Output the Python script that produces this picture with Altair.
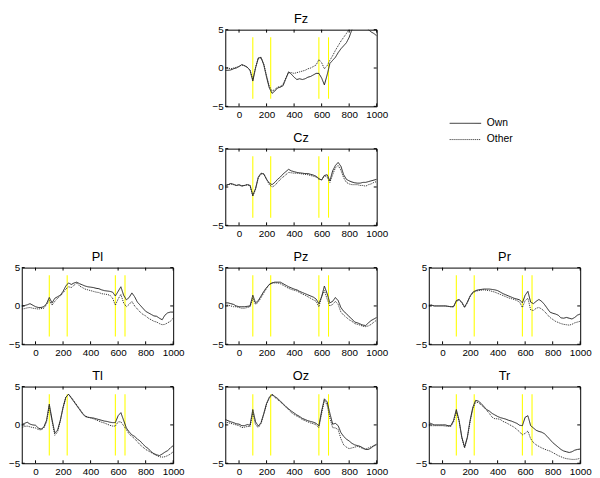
import altair as alt
import pandas as pd

# ---------------- data ----------------
TIME = list(range(-100, 1001, 20))          # ms, 56 samples
MARKERS = [100, 230, 580, 650]              # yellow marker latencies (ms)
MARK_LO, MARK_HI = -4, 4                    # vertical extent of marker lines
X_TICKS = [0, 200, 400, 600, 800, 1000]
Y_TICKS = [-5, 0, 5]
SERIES = ["Own", "Other"]

FZ_OWN = [-0.3, -0.3, -0.25, -0.1, 0.0, 0.2, 0.45, 0.3, 0.1, -0.3,
          -1.7, 0.0, 1.3, 1.4, 0.4, -1.2, -2.6, -3.3, -3.0, -2.6,
          -2.5, -2.3, -1.4, -0.5, -0.8, -1.2, -1.5, -1.4, -1.5, -1.4,
          -1.2, -1.1, -0.9, -0.7, -0.7, -1.3, -2.2, -0.9, 0.6, 1.0,
          1.4, 2.0, 2.5, 2.9, 3.3, 4.0, 5.0, 5.6, 6.0, 6.2,
          6.2, 5.6, 5.0, 4.7, 4.5, 4.2]
FZ_OTHER = [0.1, 0.0, -0.1, 0.0, 0.1, 0.2, 0.4, 0.3, 0.1, -0.3,
            -1.5, 0.1, 1.3, 1.3, 0.5, -1.0, -2.4, -3.0, -2.8, -2.5,
            -2.4, -2.1, -1.3, -0.6, -0.6, -0.7, -0.6, -0.5, -0.4, -0.3,
            -0.1, 0.0, 0.2, 0.4, 1.1, 0.7, -0.1, 0.3, 1.0, 1.6,
            2.3, 2.9, 3.5, 4.0, 4.5, 5.1, 5.8, 6.3, 6.6, 6.8,
            6.8, 6.7, 6.6, 6.4, 6.2, 6.0]
CZ_OWN = [0.2, 0.3, 0.45, 0.35, 0.2, 0.3, 0.15, 0.2, 0.3, 0.2,
          -1.1, -0.2, 1.3, 1.8, 1.7, 1.0, 0.5, 0.3, 0.6, 1.0,
          1.3, 1.7, 2.0, 2.3, 2.1, 2.0, 1.9, 1.85, 1.8, 1.75,
          1.75, 1.65, 1.55, 1.4, 1.1, 0.9, 1.5, 1.6, 0.8, 2.1,
          2.8, 3.2, 2.7, 1.6, 1.0, 0.8, 0.65, 0.55, 0.5, 0.5,
          0.6, 0.6, 0.7, 0.8, 0.9, 1.0]
CZ_OTHER = [0.2, 0.3, 0.4, 0.3, 0.2, 0.25, 0.1, 0.2, 0.3, 0.2,
            -1.2, -0.3, 1.2, 1.7, 1.7, 1.0, 0.3, 0.0, 0.2, 0.6,
            1.0, 1.3, 1.6, 1.9, 1.85, 1.8, 1.8, 1.75, 1.7, 1.65,
            1.6, 1.5, 1.4, 1.3, 1.0, 0.95, 1.5, 1.3, 0.6, 1.6,
            2.5, 2.8, 2.2, 1.2, 0.6, 0.4, 0.3, 0.3, 0.3, 0.2,
            0.2, 0.1, 0.3, 0.4, 0.6, 0.7]
PL_OWN = [0.0, 0.05, 0.15, 0.3, 0.1, -0.1, -0.2, -0.2, -0.1, 0.3,
          1.1, 0.4, 1.0, 1.2, 1.4, 1.9, 2.6, 3.0, 2.8, 3.0,
          3.1, 2.9, 2.75, 2.6, 2.5, 2.45, 2.4, 2.3, 2.25, 2.1,
          2.0, 1.95, 1.9, 1.8, 1.3, 1.9, 2.5, 1.4, 0.8, 1.1,
          1.7, 1.2, 0.5, 0.1, -0.3, -0.7, -0.9, -1.1, -1.3, -1.35,
          -1.6, -1.8, -1.2, -0.9, -0.8, -0.8]
PL_OTHER = [-0.4, -0.35, -0.25, -0.2, -0.3, -0.35, -0.4, -0.35, -0.3, 0.2,
            0.7, 0.1, 0.6, 1.0, 1.3, 1.7, 2.2, 2.5, 2.4, 2.7,
            3.0, 2.6, 2.4, 2.2, 2.1, 2.0, 1.9, 1.8, 1.75, 1.6,
            1.55, 1.5, 1.4, 1.0, 0.1, 0.9, 1.5, 0.4, -0.1, 0.2,
            0.6, 0.0, -0.4, -0.8, -1.1, -1.3, -1.6, -1.8, -2.0, -2.1,
            -2.3, -2.45, -2.4, -2.2, -2.0, -1.6]
PZ_OWN = [0.4, 0.4, 0.3, 0.2, 0.0, -0.1, -0.1, -0.1, -0.05, 0.0,
          1.4, 0.4, 0.7, 1.3, 1.9, 2.4, 2.8, 3.0, 3.1, 3.1,
          3.1, 2.9, 2.7, 2.5, 2.35, 2.2, 2.1, 1.9, 1.75, 1.6,
          1.45, 1.3, 1.15, 0.9, 0.3, 1.2, 2.6, 1.6, 0.4, 0.6,
          1.1, 0.7, -0.2, -0.7, -1.0, -1.4, -1.7, -2.1, -2.2, -2.35,
          -2.5, -2.55, -2.2, -1.9, -1.7, -1.5]
PZ_OTHER = [0.1, 0.1, 0.0, -0.1, -0.1, -0.2, -0.3, -0.3, -0.2, -0.1,
            1.0, 0.2, 0.5, 1.1, 1.7, 2.3, 2.8, 3.0, 3.0, 3.0,
            2.9, 2.7, 2.5, 2.3, 2.15, 2.05, 1.95, 1.75, 1.55, 1.4,
            1.2, 1.0, 0.8, 0.6, -0.1, 1.2, 2.0, 0.9, 0.0, 0.2,
            0.6, 0.2, -0.8, -1.2, -1.5, -1.8, -2.0, -2.3, -2.4, -2.5,
            -2.65, -2.7, -2.6, -2.4, -2.1, -1.85]
PR_OWN = [0.1, 0.1, 0.0, 0.0, 0.0, 0.0, 0.0, -0.05, -0.1, -0.1,
          0.7, 0.85, 0.5, -0.15, 0.5, 1.3, 1.8, 2.0, 2.1, 2.15,
          2.2, 2.2, 2.2, 2.15, 2.1, 2.0, 1.8, 1.6, 1.45, 1.3,
          1.15, 1.0, 0.9, 0.8, 0.4, 1.4, 1.9, 0.5, 0.3, 0.6,
          0.85, 0.6, 0.2, -0.3, -0.8, -0.95, -1.05, -1.2, -1.55, -1.6,
          -1.5, -1.6, -1.7, -1.5, -1.2, -1.05]
PR_OTHER = [0.1, 0.1, 0.0, 0.0, 0.0, 0.0, 0.0, -0.05, -0.1, -0.1,
            0.6, 0.75, 0.4, -0.2, 0.4, 1.2, 1.7, 1.9, 2.0, 2.05,
            2.1, 2.05, 2.0, 1.9, 1.8, 1.65, 1.5, 1.35, 1.2, 1.05,
            0.95, 0.85, 0.7, 0.5, -0.2, 0.7, 1.0, -0.5, -0.6, -0.3,
            -0.2, -0.4, -0.7, -1.1, -1.5, -1.75, -2.0, -2.15, -2.3, -2.4,
            -2.45, -2.5, -2.4, -2.2, -2.1, -2.0]
TL_OWN = [0.05, 0.2, 0.35, 0.1, 0.0, -0.05, -0.4, -0.55, -0.3, 0.6,
          2.7, 0.7, -1.05, -0.7, 0.6, 2.3, 3.6, 4.0, 3.5, 3.0,
          2.5, 2.0, 1.5, 1.1, 1.0, 0.95, 0.9, 0.8, 0.7, 0.6,
          0.5, 0.45, 0.35, 0.3, 0.3, 1.2, 1.6, 0.6, -0.4, -0.9,
          -1.3, -1.5, -1.85, -2.1, -2.5, -2.85, -3.1, -3.5, -3.75, -3.9,
          -4.0, -3.8, -3.55, -3.35, -3.0, -2.7]
TL_OTHER = [-0.35, -0.2, -0.15, -0.25, -0.35, -0.4, -0.6, -0.65, -0.4, 0.4,
            2.4, 0.5, -1.35, -0.9, 0.5, 2.2, 3.6, 4.0, 3.6, 3.1,
            2.6, 2.1, 1.6, 1.2, 1.0, 0.9, 0.8, 0.65, 0.5, 0.35,
            0.25, 0.1, -0.05, -0.15, -0.15, 0.4, 0.4, -0.1, -0.6, -1.2,
            -1.5, -1.8, -2.2, -2.6, -2.9, -3.2, -3.4, -3.6, -3.8, -4.0,
            -4.15, -4.2, -4.15, -4.0, -3.8, -3.5]
OZ_OWN = [0.7, 0.55, 0.4, 0.3, 0.15, 0.1, -0.1, -0.1, 0.05, -0.05,
          2.0, 0.4, -0.15, 0.3, 1.5, 2.8, 3.6, 4.0, 3.7, 3.45,
          3.1, 2.75, 2.4, 2.1, 1.8, 1.55, 1.3, 1.1, 0.85, 0.7,
          0.55, 0.45, 0.35, 0.2, -0.1, 1.8, 3.4, 3.0, 1.5, 0.1,
          0.2, -0.1, -1.0, -1.5, -1.85, -2.1, -2.4, -2.6, -2.7, -2.8,
          -3.0, -3.2, -3.2, -3.0, -2.7, -2.5]
OZ_OTHER = [0.35, 0.3, 0.2, 0.1, 0.0, -0.1, -0.35, -0.3, -0.2, -0.2,
            1.6, 0.0, -0.35, 0.2, 1.4, 2.7, 3.5, 3.9, 3.6, 3.3,
            3.0, 2.7, 2.3, 2.0, 1.6, 1.35, 1.15, 0.95, 0.7, 0.55,
            0.4, 0.25, 0.15, 0.0, -0.35, 1.5, 3.2, 2.6, 0.9, -0.35,
            -0.4, -0.6, -1.8, -2.6, -2.9, -3.1, -3.0, -2.9, -2.8, -2.9,
            -3.1, -3.15, -3.0, -2.85, -2.75, -2.6]
TR_OWN = [0.3, 0.15, 0.0, 0.0, 0.0, 0.0, 0.0, -0.1, -0.1, 0.6,
          2.0, 0.6, -1.6, -2.9, -1.6, 0.6, 2.3, 3.2, 3.1, 2.8,
          2.4, 2.0, 1.8, 1.5, 1.3, 1.1, 0.95, 0.85, 0.75, 0.6,
          0.5, 0.35, 0.2, -0.05, -0.1, 1.0, 1.2, -0.1, -0.4, -0.7,
          -0.85, -0.95, -1.15, -1.5, -1.9, -2.3, -2.6, -2.9, -3.2, -3.4,
          -3.5, -3.6, -3.5, -3.3, -3.2, -3.15]
TR_OTHER = [-0.15, -0.1, -0.1, -0.1, -0.1, -0.1, -0.15, -0.2, -0.2, 0.4,
            1.7, 0.5, -1.7, -3.0, -1.7, 0.4, 2.1, 3.0, 2.9, 2.6,
            2.3, 1.9, 1.5, 1.0, 0.8, 0.8, 0.7, 0.45, 0.3, 0.1,
            -0.1, -0.3, -0.6, -0.9, -1.3, -1.1, -0.8, -1.8, -2.3, -2.6,
            -2.8, -3.0, -3.15, -3.3, -3.4, -3.6, -3.8, -4.0, -4.15, -4.3,
            -4.4, -4.45, -4.5, -4.5, -4.45, -4.35]

DATA = {
    "Fz": (FZ_OWN, FZ_OTHER), "Cz": (CZ_OWN, CZ_OTHER),
    "Pl": (PL_OWN, PL_OTHER), "Pz": (PZ_OWN, PZ_OTHER), "Pr": (PR_OWN, PR_OTHER),
    "Tl": (TL_OWN, TL_OTHER), "Oz": (OZ_OWN, OZ_OTHER), "Tr": (TR_OWN, TR_OTHER),
}
for k, (a, b) in DATA.items():
    assert len(a) == len(TIME) and len(b) == len(TIME), k

# ---------------- style ----------------
W, H = 154, 78
FONT = "Liberation Sans"
INK = "#222222"

x_scale = alt.Scale(domain=[-100, 1000], nice=False, zero=False)
y_scale = alt.Scale(domain=[-5, 5], nice=False, zero=False)
x_axis = alt.Axis(values=X_TICKS, format="d", title=None, labelPadding=3,
                  ticks=False, domain=False, grid=False, labelFlush=False,
                  labelOverlap=False)
y_axis = alt.Axis(values=Y_TICKS, format="d", title=None, labelPadding=2,
                  ticks=False, domain=False, grid=False, labelOverlap=False)
# long horizontal line sample: custom path scaled by sqrt(size)/2
dash_legend = alt.Legend(title=None, orient="none", legendX=458, legendY=90,
                         symbolType="M-7,0H1", symbolSize=64,
                         symbolStrokeWidth=1, labelOffset=4.5, padding=0,
                         rowPadding=5.5)


def panel(name):
    own, other = DATA[name]
    rows = []
    for s, vals in zip(SERIES, (own, other)):
        for t, v in zip(TIME, vals):
            rows.append({"t": t, "v": v, "series": s})
    df = pd.DataFrame(rows)
    mk = pd.DataFrame({"t": MARKERS, "lo": [MARK_LO] * len(MARKERS),
                       "hi": [MARK_HI] * len(MARKERS)})
    xt = pd.DataFrame({"t": X_TICKS})
    yt = pd.DataFrame({"v": Y_TICKS})
    nm = pd.DataFrame({"name": [name]})
    X = alt.X("t:Q", scale=x_scale, axis=x_axis)

    yellow = alt.Chart(mk).mark_rule(color="#ffff00", strokeWidth=1.1).encode(
        x=X, y=alt.Y("lo:Q", scale=y_scale, axis=y_axis), y2="hi:Q")
    lines = alt.Chart(df).mark_line(clip=True, strokeWidth=1, color=INK).encode(
        x=X,
        y=alt.Y("v:Q", scale=y_scale, axis=y_axis),
        strokeDash=alt.StrokeDash(
            "series:N",
            scale=alt.Scale(domain=SERIES, range=[[1, 0], [1, 1]]),
            legend=dash_legend),
    )
    tb = alt.Chart(xt).mark_rule(color="#000", strokeWidth=1).encode(
        x=X, y=alt.value(H), y2=alt.value(H - 3))
    tt = alt.Chart(xt).mark_rule(color="#000", strokeWidth=1).encode(
        x=X, y=alt.value(0), y2=alt.value(3))
    tl = alt.Chart(yt).mark_rule(color="#000", strokeWidth=1).encode(
        y=alt.Y("v:Q", scale=y_scale, axis=y_axis), x=alt.value(0), x2=alt.value(3))
    tr = alt.Chart(yt).mark_rule(color="#000", strokeWidth=1).encode(
        y=alt.Y("v:Q", scale=y_scale, axis=y_axis), x=alt.value(W), x2=alt.value(W - 3))
    title = alt.Chart(nm).mark_text(
        font=FONT, fontSize=13, color="#000", align="center",
        baseline="alphabetic"
    ).encode(text="name:N", x=alt.value(W / 2), y=alt.value(-7))
    return alt.layer(yellow, lines, tb, tt, tl, tr, title).properties(
        width=W, height=H)


def blank():
    return alt.Chart(pd.DataFrame({"a": [0]})).mark_point(opacity=0).encode(
        x=alt.value(0), y=alt.value(0)
    ).properties(width=W, height=H, view=alt.ViewBackground(strokeOpacity=0))


cells = [blank(), panel("Fz"), blank(),
         blank(), panel("Cz"), blank(),
         panel("Pl"), panel("Pz"), panel("Pr"),
         panel("Tl"), panel("Oz"), panel("Tr")]

chart = alt.concat(
    *cells, columns=3, spacing={"row": 43, "column": 53},
    bounds="flush", align="all"
).properties(
    padding=0, background="white"
).configure_view(
    stroke="#000", strokeWidth=1
).configure_axis(
    labelFont=FONT, labelFontSize=10, labelColor="#000"
).configure_legend(
    labelFont=FONT, labelFontSize=10.5, labelColor="#000"
)

chart.save("out.html", embed_options={"renderer": "svg", "actions": False})
